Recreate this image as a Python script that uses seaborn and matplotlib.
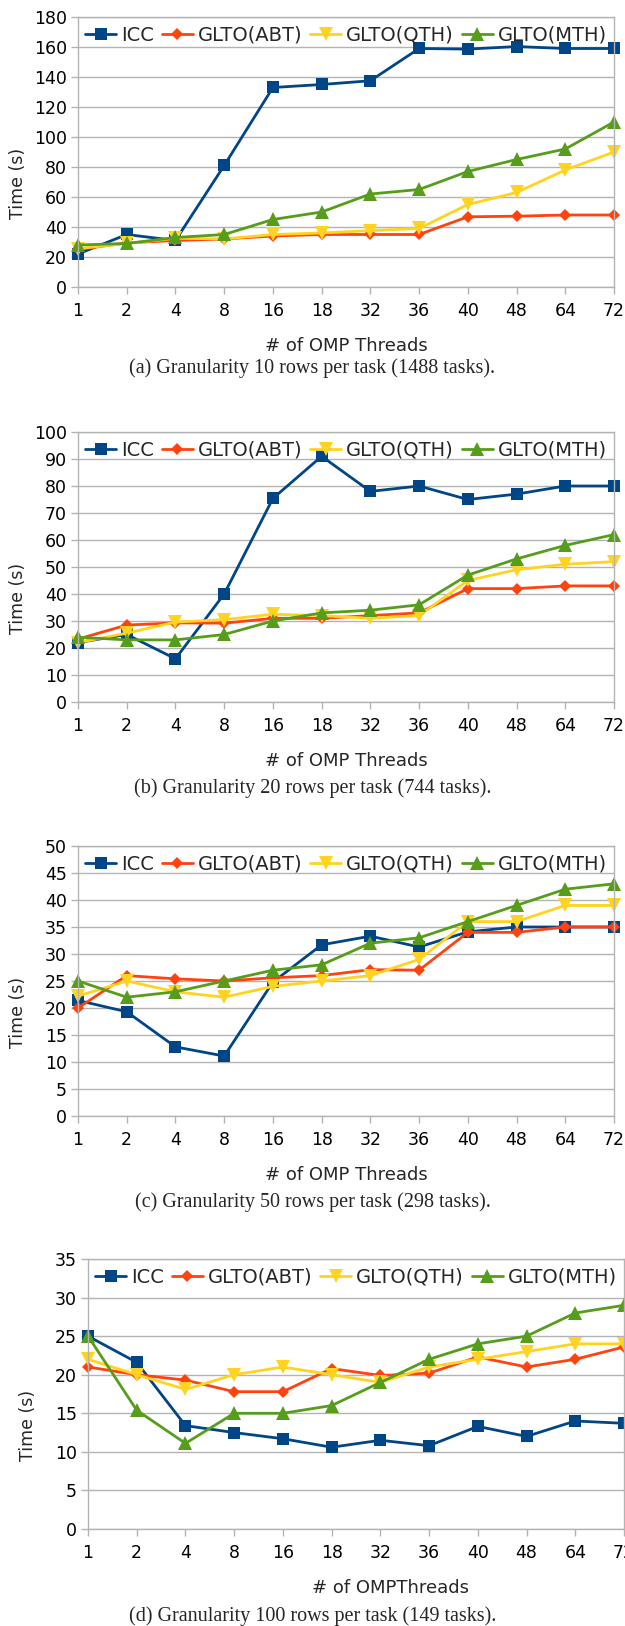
import numpy as np
import pandas as pd
import matplotlib.pyplot as plt
import seaborn as sns

# thread counts shown on the x axis (categorical)
threads = ['1', '2', '4', '8', '16', '18', '32', '36', '40', '48', '64', '72']
series = ['ICC', 'GLTO(ABT)', 'GLTO(QTH)', 'GLTO(MTH)']

# (a) granularity 10 rows per task
icc_a = [22, 35, 31, 81, 133, 135, 137.5, 159, 158.6, 160.3, 159, 159]
abt_a = [25, 29.4, 31, 32, 34, 35, 35, 35, 46.8, 47.2, 48, 48]
qth_a = [25.6, 29, 32.5, 32, 35, 36, 37.6, 39, 55, 63, 78, 90]
mth_a = [28, 29, 33, 35, 45, 50, 62, 65, 77, 85, 92, 110]

# (b) granularity 20 rows per task
icc_b = [22, 25, 16, 40, 75.4, 91, 78, 80, 75, 77, 80, 80]
abt_b = [23.3, 28.5, 29.3, 29.2, 31, 31, 32, 33, 42, 42, 43, 43]
qth_b = [22, 25.5, 29.6, 30.5, 32.5, 32, 31, 32, 45, 49, 51, 52]
mth_b = [24, 23, 23, 25, 30, 33, 34, 36, 47, 53, 58, 62]

# (c) granularity 50 rows per task
icc_c = [21.4, 19.3, 12.8, 11.1, 24.8, 31.7, 33.3, 31.3, 34.1, 35, 35, 35]
abt_c = [20, 26, 25.4, 25, 25.6, 26, 27.1, 27, 34, 34, 35, 35]
qth_c = [22.2, 25, 23, 22, 24, 25, 26, 29, 36, 36, 39, 39]
mth_c = [25, 22, 23, 25, 27, 28, 32, 33, 36, 39, 42, 43]

# (d) granularity 100 rows per task
icc_d = [25, 21.6, 13.4, 12.5, 11.7, 10.6, 11.5, 10.8, 13.3, 12, 14, 13.7]
abt_d = [21, 20, 19.3, 17.8, 17.8, 20.8, 19.9, 20.2, 22.3, 21, 22, 23.6]
qth_d = [22, 20, 18.1, 20, 21, 20, 19, 21, 22, 23, 24, 24]
mth_d = [25, 15.4, 11.1, 15, 15, 16, 19, 22, 24, 25, 28, 29]

colors = {'ICC': '#004586', 'GLTO(ABT)': '#ff420e',
          'GLTO(QTH)': '#ffd320', 'GLTO(MTH)': '#579d1c'}
markers = {'ICC': 's', 'GLTO(ABT)': 'D', 'GLTO(QTH)': 'v', 'GLTO(MTH)': '^'}
msizes = {'ICC': 8.5, 'GLTO(ABT)': 6, 'GLTO(QTH)': 10, 'GLTO(MTH)': 9.5}

panels = [
    dict(data=[icc_a, abt_a, qth_a, mth_a], ymax=180, step=20,
         box=(78, 17, 614, 287), xlabel='# of OMP Threads', xl_x=0.5,
         caption='(a) Granularity 10 rows per task (1488 tasks).', cap_y=368),
    dict(data=[icc_b, abt_b, qth_b, mth_b], ymax=100, step=10,
         box=(78, 432, 614, 702), xlabel='# of OMP Threads', xl_x=0.5,
         caption='(b) Granularity 20 rows per task (744 tasks).', cap_y=788),
    dict(data=[icc_c, abt_c, qth_c, mth_c], ymax=50, step=5,
         box=(78, 846, 614, 1116), xlabel='# of OMP Threads', xl_x=0.5,
         caption='(c) Granularity 50 rows per task (298 tasks).', cap_y=1202),
    dict(data=[icc_d, abt_d, qth_d, mth_d], ymax=35, step=5,
         box=(88, 1259, 624, 1529), xlabel='# of OMPThreads', xl_x=0.565,
         caption='(d) Granularity 100 rows per task (149 tasks).', cap_y=1616),
]

sns.set_theme(style='white')
plt.rcParams['font.family'] = ['DejaVu Sans']

W, H = 625, 1626
fig = plt.figure(figsize=(W / 100, H / 100), dpi=100)
grid_c = '#b3b3b3'

for p in panels:
    l, t, r, b = p['box']
    ax = fig.add_axes([l / W, 1 - b / H, (r - l) / W, (b - t) / H])

    rows = []
    for name, vals in zip(series, p['data']):
        for i, v in enumerate(vals):
            rows.append({'pos': i, 'threads': threads[i], 'series': name, 'time': v})
    df = pd.DataFrame(rows)

    for name in series:
        sub = df[df['series'] == name]
        sns.lineplot(data=sub, x='pos', y='time', ax=ax, color=colors[name],
                     marker=markers[name], markersize=msizes[name],
                     markeredgewidth=0, lw=2.0, label=name, clip_on=False)

    ax.set_xlim(0, len(threads) - 1)
    ax.set_ylim(0, p['ymax'])
    ax.set_xticks(range(len(threads)))
    ax.set_xticklabels(threads)
    ax.set_yticks(np.arange(0, p['ymax'] + 1, p['step']))
    ax.yaxis.grid(True, color=grid_c, lw=1)
    ax.set_axisbelow(True)
    for s in ax.spines.values():
        s.set_color(grid_c)
        s.set_linewidth(1)
    ax.tick_params(axis='both', which='major', length=5, width=1, color=grid_c,
                   labelsize=12.5, labelcolor='black', pad=3, bottom=True, left=True)
    ax.tick_params(axis='x', pad=6)

    ax.set_xlabel(p['xlabel'], fontsize=13, va='center')
    ax.xaxis.set_label_coords(p['xl_x'], -0.218)
    ax.set_ylabel('Time (s)', fontsize=12.5)
    ax.yaxis.set_label_coords(-0.095, 0.385)

    ax.legend(loc='upper center', bbox_to_anchor=(0.5, 0.975), ncol=4, frameon=False,
              fontsize=14, handlelength=1.6, handletextpad=0.25, columnspacing=0.4,
              borderaxespad=0.0, borderpad=0.1)

    fig.text(0.5, 1 - p['cap_y'] / H, p['caption'], ha='center', va='center',
             fontsize=14.5, family='Liberation Serif')

fig.savefig('out.png', dpi=100)
